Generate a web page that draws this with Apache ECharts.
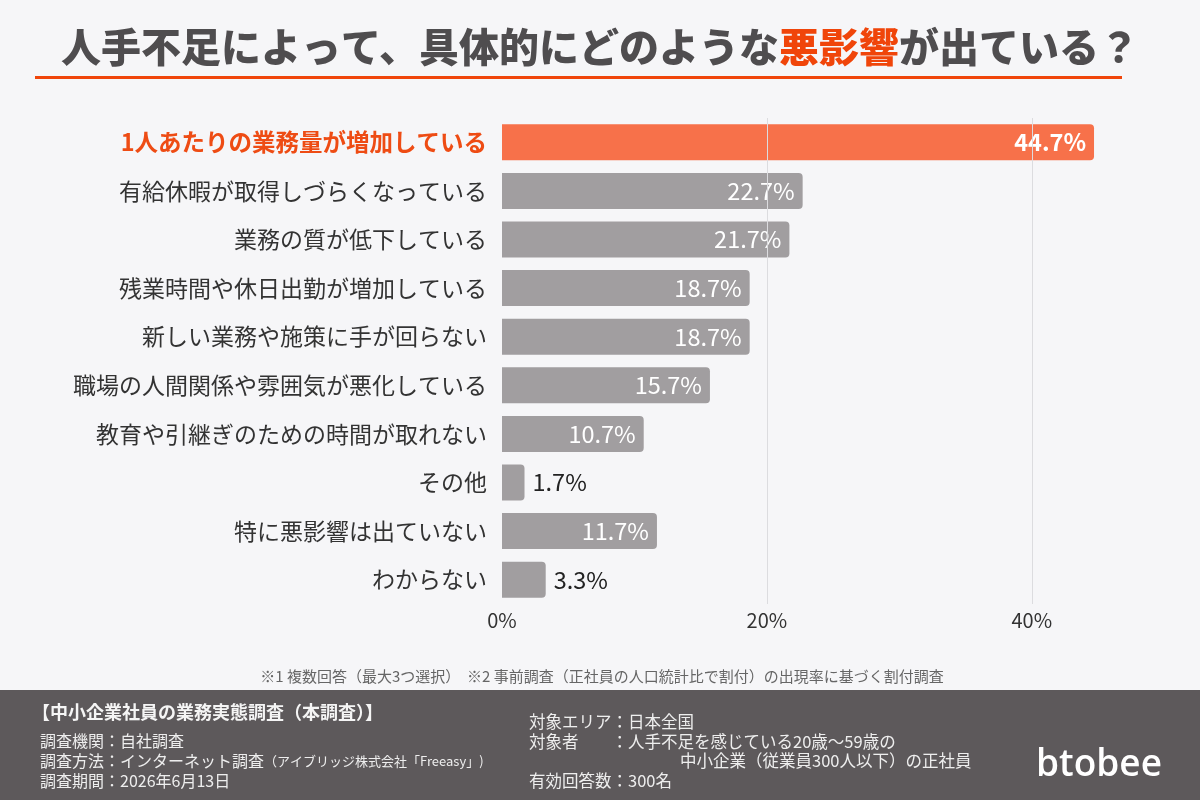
<!DOCTYPE html>
<html><head><meta charset="utf-8">
<script src="https://cdn.jsdelivr.net/npm/echarts@6/dist/echarts.min.js"></script>
<style>html,body{margin:0;padding:0;background:#f6f6f8;}#c{width:1200px;height:800px;}</style>
</head><body><div id="c"></div>
<script>
const categories = [
  '1人あたりの業務量が増加している',
  '有給休暇が取得しづらくなっている',
  '業務の質が低下している',
  '残業時間や休日出勤が増加している',
  '新しい業務や施策に手が回らない',
  '職場の人間関係や雰囲気が悪化している',
  '教育や引継ぎのための時間が取れない',
  'その他',
  '特に悪影響は出ていない',
  'わからない'
];
const values = [44.7, 22.7, 21.7, 18.7, 18.7, 15.7, 10.7, 1.7, 11.7, 3.3];
const gridTicks = [20, 40];
const axisMin = 0, axisMax = 45, axisInterval = 20;

const FONT = '"Noto Sans CJK JP", "Noto Sans", sans-serif';
const ORANGE = '#ee4c14';

const chart = echarts.init(document.getElementById('c'), null, {renderer: 'canvas'});

const data = values.map((v, i) => {
  const small = v < 5;
  return {
    value: v,
    itemStyle: { color: i === 0 ? '#f7714a' : '#a19ea0', borderRadius: [0, 4, 4, 0] },
    label: {
      show: true,
      position: small ? 'right' : 'insideRight',
      distance: 8,
      color: small ? '#222' : '#fff',
      fontWeight: i === 0 ? 'bold' : 'normal',
      fontSize: 23.5,
      fontFamily: FONT,
      formatter: p => p.value.toFixed(1) + '%'
    }
  };
});

const footerLeft = [
  '調査機関：自社調査',
  '{m|調査方法：インターネット調査}{s|（アイブリッジ株式会社「Freeasy」)}',
  '調査期間：2026年6月13日'
];

chart.setOption({
  backgroundColor: '#f6f6f8',
  animation: false,
  title: {
    left: 'center',
    top: 22,
    text: '{a|人手不足によって、具体的にどのような}{b|悪影響}{a|が出ている？}',
    textStyle: {
      rich: {
        a: { fontFamily: FONT, fontWeight: 900, fontSize: 40, color: '#4f4d4f' },
        b: { fontFamily: FONT, fontWeight: 900, fontSize: 40, color: '#f0450a' }
      }
    }
  },
  grid: { left: 502, right: 102, top: 118, bottom: 196 },
  xAxis: {
    type: 'value',
    min: axisMin, max: axisMax, interval: axisInterval,
    axisLine: { show: false }, axisTick: { show: false },
    splitLine: { show: false },
    axisLabel: {
      showMaxLabel: false,
      margin: 6,
      fontSize: 20, color: '#333', fontFamily: FONT,
      formatter: v => v + '%'
    }
  },
  yAxis: {
    type: 'category',
    inverse: true,
    data: categories,
    axisLine: { show: false }, axisTick: { show: false },
    axisLabel: {
      margin: 15,
      formatter: (v, i) => i === 0 ? '{h|' + v + '}' : '{n|' + v + '}',
      rich: {
        h: { fontFamily: FONT, fontWeight: 'bold', fontSize: 23.5, color: ORANGE },
        n: { fontFamily: FONT, fontSize: 23, color: '#333' }
      }
    }
  },
  series: [{
    type: 'bar',
    data: data,
    barWidth: 36,
    markLine: {
      silent: true,
      symbol: 'none',
      label: { show: false },
      lineStyle: { color: '#dcdcdf', type: 'solid', width: 1 },
      data: gridTicks.map(t => ({ xAxis: t }))
    },
    z: 3
  }],
  graphic: [
    { type: 'rect', shape: { x: 35, y: 76, width: 1087, height: 3 }, style: { fill: '#f0450a' } },
    { type: 'text', x: 602, y: 676, style: { text: '※1 複数回答（最大3つ選択）  ※2 事前調査（正社員の人口統計比で割付）の出現率に基づく割付調査', font: '15px ' + FONT, fill: '#666', align: 'center', verticalAlign: 'middle' } },
    { type: 'rect', shape: { x: 0, y: 690, width: 1200, height: 110 }, style: { fill: '#5d595b' } },
    { type: 'text', x: 32, y: 712, style: { text: '【中小企業社員の業務実態調査（本調査）】', font: 'bold 18px ' + FONT, fill: '#f5f5f5', verticalAlign: 'middle' } },
    { type: 'text', x: 40, y: 741, style: { text: footerLeft[0], font: '16px ' + FONT, fill: '#eeeeee', verticalAlign: 'middle' } },
    { type: 'text', x: 40, y: 761, style: { text: footerLeft[1], fill: '#eeeeee', verticalAlign: 'middle', rich: { m: { font: '16px ' + FONT, fill: '#eeeeee' }, s: { font: '13px ' + FONT, fill: '#eeeeee' } } } },
    { type: 'text', x: 40, y: 781, style: { text: footerLeft[2], font: '16px ' + FONT, fill: '#eeeeee', verticalAlign: 'middle' } },
    { type: 'text', x: 529, y: 722, style: { text: '対象エリア：日本全国', font: '16.5px ' + FONT, fill: '#eeeeee', verticalAlign: 'middle' } },
    { type: 'text', x: 529, y: 742, style: { text: '対象者　　：人手不足を感じている20歳～59歳の', font: '16.5px ' + FONT, fill: '#eeeeee', verticalAlign: 'middle' } },
    { type: 'text', x: 680, y: 761, style: { text: '中小企業（従業員300人以下）の正社員', font: '16.5px ' + FONT, fill: '#eeeeee', verticalAlign: 'middle' } },
    { type: 'text', x: 529, y: 781, style: { text: '有効回答数：300名', font: '16.5px ' + FONT, fill: '#eeeeee', verticalAlign: 'middle' } },
    { type: 'text', x: 1099, y: 765, style: { text: 'btobee', font: '600 37px "Open Sans", sans-serif', fill: '#ffffff', align: 'center', verticalAlign: 'middle' } }
  ]
});
</script>
</body></html>
